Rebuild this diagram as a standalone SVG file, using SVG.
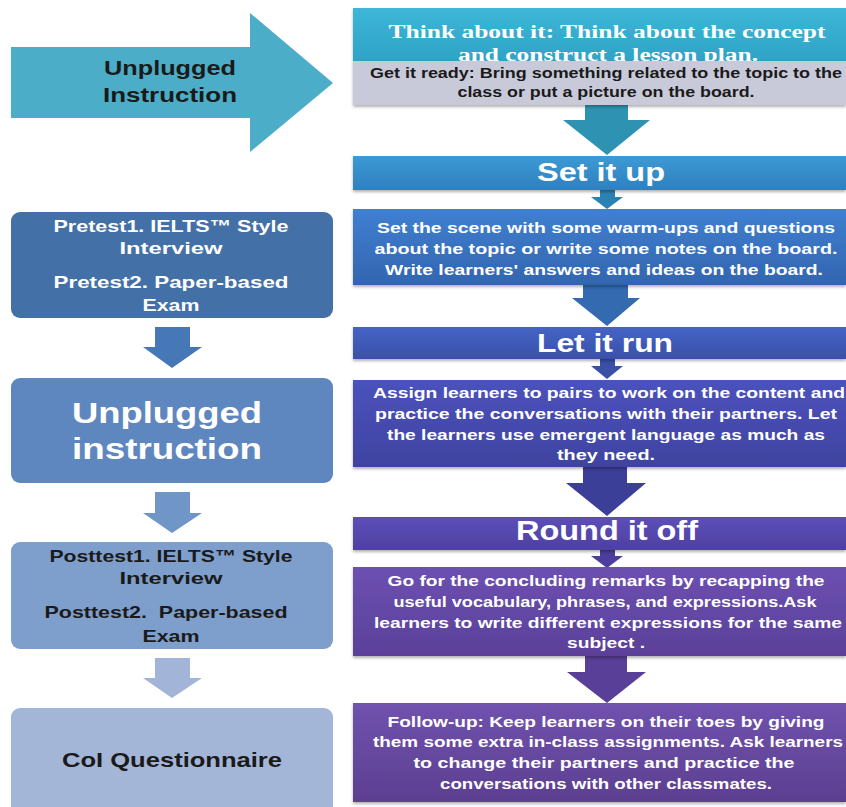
<svg xmlns="http://www.w3.org/2000/svg" width="846" height="807" viewBox="0 0 846 807">
<style>
.t{font-family:"Liberation Sans","Open Sans",Arial,sans-serif;font-weight:bold;text-anchor:middle}
.w{fill:#ffffff}
.d{fill:#1a1a1a}
.s15{font-size:15px}
.s17{font-size:17px}
.big{font-size:26px}
.serif{font-family:"Liberation Serif","DejaVu Serif",serif;font-weight:bold;font-size:18px;text-anchor:middle;fill:#ffffff}
.box{filter:url(#sh)}
</style>
<defs>
<filter id="sh" x="-5%" y="-10%" width="110%" height="130%"><feDropShadow dx="0" dy="2" stdDeviation="1.5" flood-color="#000" flood-opacity="0.3"/></filter>
<linearGradient id="gThink" x1="0" y1="0" x2="0" y2="1"><stop offset="0" stop-color="#3DB6D8"/><stop offset="1" stop-color="#2FA3C6"/></linearGradient>
<linearGradient id="gSet" x1="0" y1="0" x2="0" y2="1"><stop offset="0" stop-color="#3C9AD4"/><stop offset="1" stop-color="#2F80BE"/></linearGradient>
<linearGradient id="gScene" x1="0" y1="0" x2="0" y2="1"><stop offset="0" stop-color="#3F80D0"/><stop offset="1" stop-color="#3365B0"/></linearGradient>
<linearGradient id="gLet" x1="0" y1="0" x2="0" y2="1"><stop offset="0" stop-color="#4564C6"/><stop offset="1" stop-color="#3A50A8"/></linearGradient>
<linearGradient id="gAssign" x1="0" y1="0" x2="0" y2="1"><stop offset="0" stop-color="#4B52BC"/><stop offset="1" stop-color="#3F43A0"/></linearGradient>
<linearGradient id="gRound" x1="0" y1="0" x2="0" y2="1"><stop offset="0" stop-color="#5C4EBA"/><stop offset="1" stop-color="#4E40A0"/></linearGradient>
<linearGradient id="gGo" x1="0" y1="0" x2="0" y2="1"><stop offset="0" stop-color="#6C50B2"/><stop offset="1" stop-color="#5A4098"/></linearGradient>
<linearGradient id="gFol" x1="0" y1="0" x2="0" y2="1"><stop offset="0" stop-color="#7052AE"/><stop offset="1" stop-color="#5C3F90"/></linearGradient>
</defs>
<rect width="846" height="807" fill="#ffffff"/>

<g id="connectors">
  <path d="M585,105 H628 V120 H650 L607,155 L563,120 H585 Z" fill="#2E93B2"/>
  <path d="M600,190 H615 V197 H623 L607,209 L591,197 H600 Z" fill="#2A82B2"/>
  <path d="M583,285 H628 V298 H640 L607,326 L572,298 H583 Z" fill="#336AB0"/>
  <path d="M600,359 H615 V366 H623 L607,379 L591,366 H600 Z" fill="#3A4FA8"/>
  <path d="M583,467 H627 V483 H646 L607,516 L566,483 H583 Z" fill="#3C3F98"/>
  <path d="M600,549 H615 V556 H623 L607,568 L591,556 H600 Z" fill="#4C3E9E"/>
  <path d="M585,656 H627 V672 H646 L607,703 L567,672 H585 Z" fill="#5A3F98"/>
  <path d="M155,327 H190 V347 H202 L172,368 L143,347 H155 Z" fill="#4677B6"/>
  <path d="M155,492 H190 V513 H202 L172,533 L143,513 H155 Z" fill="#7096C8"/>
  <path d="M155,658 H190 V678 H202 L172,698 L143,678 H155 Z" fill="#A2B5D8"/>
</g>

<g id="arrow-unplugged">
  <path d="M11,47 H250 V13 L333,83 L250,152 V118 H11 Z" fill="#4BADC7"/>
  <text class="t d" x="170" y="75" font-size="21" textLength="132" lengthAdjust="spacingAndGlyphs">Unplugged</text>
  <text class="t d" x="170" y="102" font-size="21" textLength="134" lengthAdjust="spacingAndGlyphs">Instruction</text>
</g>

<g id="think">
  <rect class="box" x="353" y="8" width="493" height="53" fill="url(#gThink)"/>
  <text class="serif" x="607" y="38" textLength="437" lengthAdjust="spacingAndGlyphs">Think about it: Think about the concept</text>
  <text class="serif" x="608" y="61" textLength="300" lengthAdjust="spacingAndGlyphs">and construct a lesson plan.</text>
</g>
<g id="ready">
  <rect class="box" x="353" y="61" width="493" height="44" fill="#C9CAD9"/>
  <text class="t d" x="606" y="78" font-size="14" textLength="472" lengthAdjust="spacingAndGlyphs">Get it ready: Bring something related to the topic to the</text>
  <text class="t d" x="606" y="97" font-size="14" textLength="297" lengthAdjust="spacingAndGlyphs">class or put a picture on the board.</text>
</g>
<g id="setup">
  <rect class="box" x="353" y="156" width="493" height="34" fill="url(#gSet)"/>
  <text class="t w big" x="601" y="181" textLength="128" lengthAdjust="spacingAndGlyphs">Set it up</text>
</g>
<g id="scene">
  <rect class="box" x="353" y="209" width="493" height="76" fill="url(#gScene)"/>
  <text class="t w s15" x="606" y="233" textLength="458" lengthAdjust="spacingAndGlyphs">Set the scene with some warm-ups and questions</text>
  <text class="t w s15" x="606" y="254" textLength="463" lengthAdjust="spacingAndGlyphs">about the topic or write some notes on the board.</text>
  <text class="t w s15" x="604" y="275" textLength="438" lengthAdjust="spacingAndGlyphs">Write learners' answers and ideas on the board.</text>
</g>
<g id="letrun">
  <rect class="box" x="353" y="327" width="493" height="32" fill="url(#gLet)"/>
  <text class="t w big" x="605" y="352" textLength="136" lengthAdjust="spacingAndGlyphs">Let it run</text>
</g>
<g id="assign">
  <rect class="box" x="353" y="380" width="493" height="87" fill="url(#gAssign)"/>
  <text class="t w s15" x="609" y="398" textLength="472" lengthAdjust="spacingAndGlyphs">Assign learners to pairs to work on the content and</text>
  <text class="t w s15" x="606" y="419" textLength="462" lengthAdjust="spacingAndGlyphs">practice the conversations with their partners. Let</text>
  <text class="t w s15" x="606" y="440" textLength="438" lengthAdjust="spacingAndGlyphs">the learners use emergent language as much as</text>
  <text class="t w s15" x="606" y="460" textLength="98" lengthAdjust="spacingAndGlyphs">they need.</text>
</g>
<g id="round">
  <rect class="box" x="353" y="517" width="493" height="33" fill="url(#gRound)"/>
  <text class="t w" x="607" y="540" font-size="28" textLength="182" lengthAdjust="spacingAndGlyphs">Round it off</text>
</g>
<g id="go">
  <rect class="box" x="353" y="567" width="493" height="89" fill="url(#gGo)"/>
  <text class="t w s15" x="606" y="586" textLength="437" lengthAdjust="spacingAndGlyphs">Go for the concluding remarks by recapping the</text>
  <text class="t w s15" x="605" y="607" textLength="423" lengthAdjust="spacingAndGlyphs">useful vocabulary, phrases, and expressions.Ask</text>
  <text class="t w s15" x="608" y="628" textLength="468" lengthAdjust="spacingAndGlyphs">learners to write different expressions for the same</text>
  <text class="t w s15" x="606" y="648" textLength="78" lengthAdjust="spacingAndGlyphs">subject .</text>
</g>
<g id="followup">
  <rect class="box" x="353" y="703" width="493" height="99" fill="url(#gFol)"/>
  <text class="t w s15" x="606" y="727" textLength="437" lengthAdjust="spacingAndGlyphs">Follow-up: Keep learners on their toes by giving</text>
  <text class="t w s15" x="608" y="747" textLength="470" lengthAdjust="spacingAndGlyphs">them some extra in-class assignments. Ask learners</text>
  <text class="t w s15" x="604" y="768" textLength="381" lengthAdjust="spacingAndGlyphs">to change their partners and practice the</text>
  <text class="t w s15" x="606" y="789" textLength="332" lengthAdjust="spacingAndGlyphs">conversations with other classmates.</text>
</g>

<g id="pretest">
  <rect x="11" y="212" width="322" height="106" rx="9" fill="#4470A8"/>
  <text class="t w s17" x="171" y="232" textLength="235" lengthAdjust="spacingAndGlyphs">Pretest1. IELTS™ Style</text>
  <text class="t w s17" x="171" y="254" textLength="103" lengthAdjust="spacingAndGlyphs">Interview</text>
  <text class="t w s17" x="171" y="288" textLength="235" lengthAdjust="spacingAndGlyphs">Pretest2. Paper-based</text>
  <text class="t w s17" x="171" y="311" textLength="57" lengthAdjust="spacingAndGlyphs">Exam</text>
</g>
<g id="unplugged-instruction">
  <rect x="11" y="378" width="322" height="105" rx="9" fill="#5F87BF"/>
  <text class="t w" x="167" y="423" font-size="30" textLength="190" lengthAdjust="spacingAndGlyphs">Unplugged</text>
  <text class="t w" x="167" y="459" font-size="30" textLength="190" lengthAdjust="spacingAndGlyphs">instruction</text>
</g>
<g id="posttest">
  <rect x="11" y="542" width="322" height="107" rx="9" fill="#7E9ECC"/>
  <text class="t d s17" x="171" y="562" textLength="243" lengthAdjust="spacingAndGlyphs">Posttest1. IELTS™ Style</text>
  <text class="t d s17" x="171" y="584" textLength="103" lengthAdjust="spacingAndGlyphs">Interview</text>
  <text class="t d s17" x="166" y="618" textLength="243" lengthAdjust="spacingAndGlyphs" xml:space="preserve">Posttest2.  Paper-based</text>
  <text class="t d s17" x="171" y="642" textLength="57" lengthAdjust="spacingAndGlyphs">Exam</text>
</g>
<g id="coi">
  <rect x="11" y="708" width="322" height="110" rx="9" fill="#A3B6D8"/>
  <text class="t d" x="172" y="767" font-size="21" textLength="220" lengthAdjust="spacingAndGlyphs">CoI Questionnaire</text>
</g>
</svg>
